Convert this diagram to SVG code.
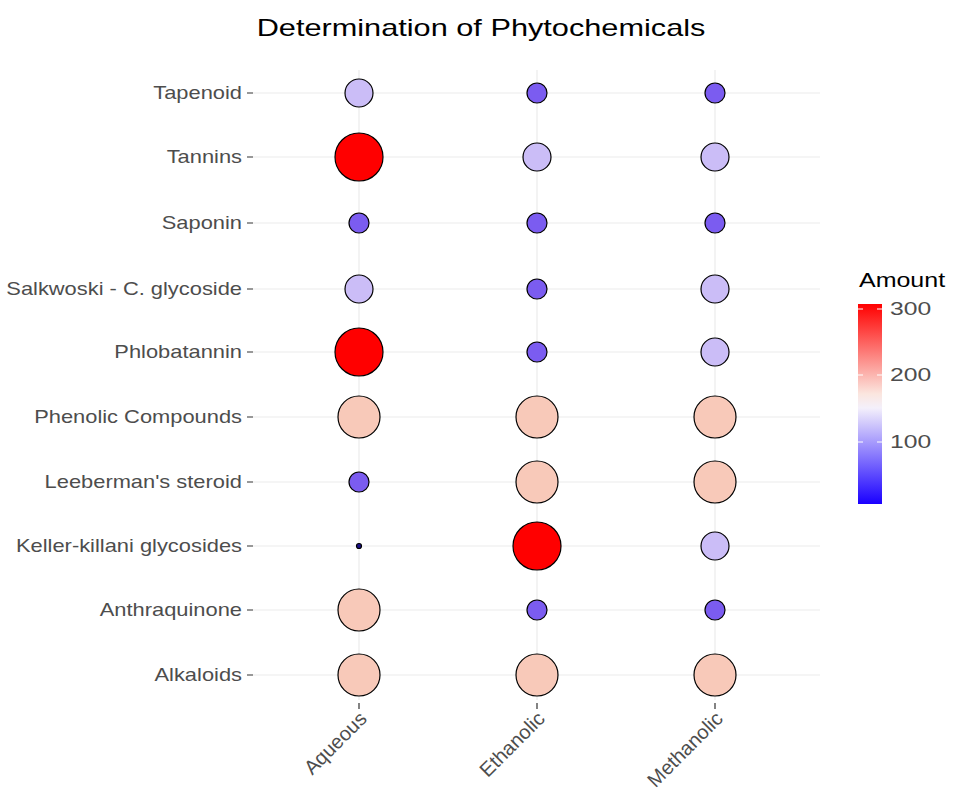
<svg xmlns="http://www.w3.org/2000/svg" width="960" height="810" viewBox="0 0 960 810">
<style>
.g{stroke:#ebebeb;stroke-width:1.2}
.t{stroke:#333;stroke-width:1.2}
.lab{font-family:"Liberation Sans",Arial,sans-serif;font-size:17.5px;fill:#4d4d4d}
.c{stroke:#000;stroke-width:1.2}
.red{fill:#ff0000}.pk{fill:#f8c9b9}.lv{fill:#cbbdf7}.bl{fill:#7b5cf0}.nv{fill:#1a0f8a}
</style>
<defs><linearGradient id="lg" x1="0" y1="0" x2="0" y2="1">
<stop offset="0" stop-color="#ff0000"/><stop offset="0.45" stop-color="#fbe6df"/><stop offset="0.52" stop-color="#f4f0fb"/><stop offset="1" stop-color="#1a00ff"/></linearGradient></defs>
<rect width="960" height="810" fill="#fff"/>
<g transform="translate(481,0) scale(1.28,1)"><text x="0" y="36" text-anchor="middle" font-family="Liberation Sans,Arial,sans-serif" font-size="24" fill="#000">Determination of Phytochemicals</text></g>
<g id="grid">
<path class="g" d="M253 93H820M253 157H820M253 223H820M253 289H820M253 352H820M253 417H820M253 482H820M253 546H820M253 610H820M253 675H820M359 70V700M537 70V700M715 70V700"/>
<path class="t" d="M247 93H253M247 157H253M247 223H253M247 289H253M247 352H253M247 417H253M247 482H253M247 546H253M247 610H253M247 675H253M359 703V709M537 703V709M715 703V709"/>
</g>
<g id="ylabels" class="lab" text-anchor="end" transform="translate(242,0) scale(1.25,1)">
<text x="0" y="99">Tapenoid</text><text x="0" y="163">Tannins</text><text x="0" y="229">Saponin</text>
<text x="0" y="295">Salkwoski - C. glycoside</text><text x="0" y="358">Phlobatannin</text>
<text x="0" y="423">Phenolic Compounds</text><text x="0" y="488">Leeberman's steroid</text>
<text x="0" y="552">Keller-killani glycosides</text><text x="0" y="616">Anthraquinone</text><text x="0" y="681">Alkaloids</text>
</g>
<g id="xlabels" class="lab" text-anchor="end" font-size="20">
<text transform="translate(368,720) rotate(-45)" font-size="20">Aqueous</text>
<text transform="translate(546,720) rotate(-45)" font-size="20">Ethanolic</text>
<text transform="translate(724,720) rotate(-45)" font-size="20">Methanolic</text>
</g>
<g id="points" class="c">
<circle class="lv" cx="359" cy="93" r="14"/><circle class="bl" cx="537" cy="93" r="10"/><circle class="bl" cx="715" cy="93" r="10"/>
<circle class="red" cx="359" cy="157" r="24"/><circle class="lv" cx="537" cy="157" r="14"/><circle class="lv" cx="715" cy="157" r="14"/>
<circle class="bl" cx="359" cy="223" r="10"/><circle class="bl" cx="537" cy="223" r="10"/><circle class="bl" cx="715" cy="223" r="10"/>
<circle class="lv" cx="359" cy="289" r="14"/><circle class="bl" cx="537" cy="289" r="10"/><circle class="lv" cx="715" cy="289" r="14"/>
<circle class="red" cx="359" cy="352" r="24"/><circle class="bl" cx="537" cy="352" r="10"/><circle class="lv" cx="715" cy="352" r="14"/>
<circle class="pk" cx="359" cy="417" r="21"/><circle class="pk" cx="537" cy="417" r="21"/><circle class="pk" cx="715" cy="417" r="21"/>
<circle class="bl" cx="359" cy="482" r="10"/><circle class="pk" cx="537" cy="482" r="21"/><circle class="pk" cx="715" cy="482" r="21"/>
<circle class="nv" cx="359" cy="546" r="2.5"/><circle class="red" cx="537" cy="546" r="24"/><circle class="lv" cx="715" cy="546" r="14"/>
<circle class="pk" cx="359" cy="610" r="21"/><circle class="bl" cx="537" cy="610" r="10"/><circle class="bl" cx="715" cy="610" r="10"/>
<circle class="pk" cx="359" cy="675" r="21"/><circle class="pk" cx="537" cy="675" r="21"/><circle class="pk" cx="715" cy="675" r="21"/>
</g>
<g id="legend">
<g transform="translate(859,0) scale(1.25,1)"><text x="0" y="287" font-family="Liberation Sans,Arial,sans-serif" font-size="20" fill="#000">Amount</text></g>
<rect x="858" y="304" width="24" height="200" fill="url(#lg)"/>
<path stroke="#fff" stroke-width="1" d="M858 309H863M877 309H882M858 375H863M877 375H882M858 442H863M877 442H882"/>
<g class="lab" transform="translate(890,0) scale(1.3,1)"><text x="0" y="315" font-size="19">300</text><text x="0" y="381" font-size="19">200</text><text x="0" y="448" font-size="19">100</text></g>
</g>
</svg>
